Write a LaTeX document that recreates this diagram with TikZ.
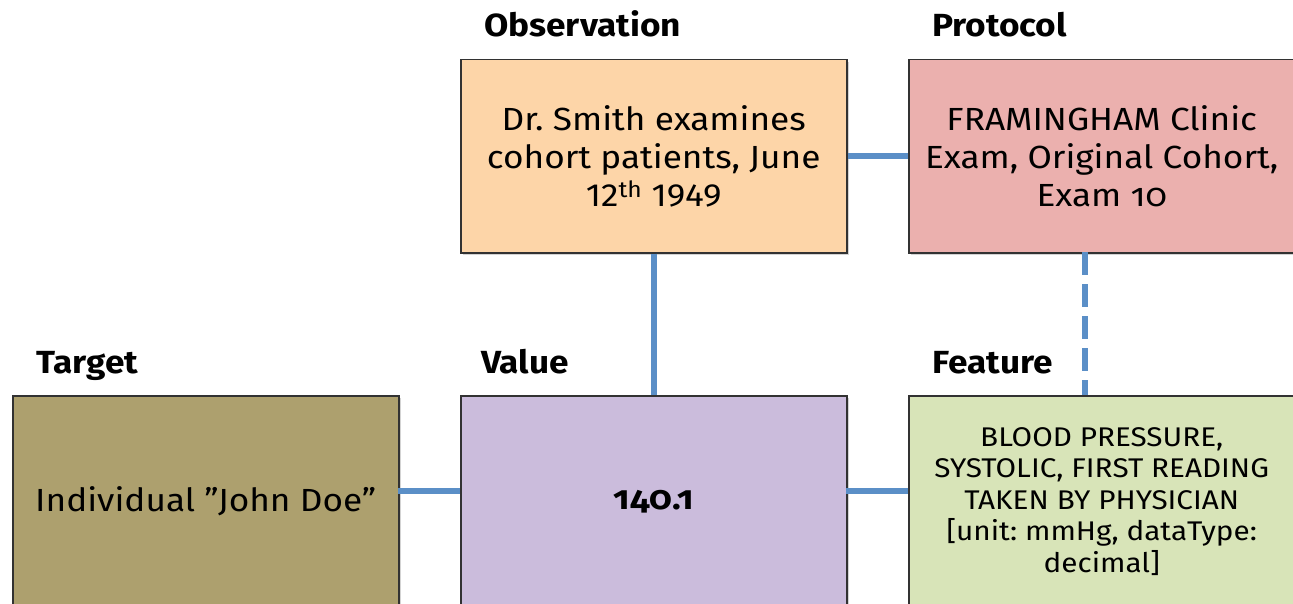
\documentclass[tikz,border=0pt]{standalone}
\usepackage{fontspec}
\setmainfont[FakeStretch=1.1]{Fira Sans}
\newfontfamily\oldnum[Numbers=OldStyle,FakeStretch=1.1]{Fira Sans}
\usetikzlibrary{shadows}
\frenchspacing
\definecolor{obsfill}{RGB}{253,213,168}
\definecolor{protfill}{RGB}{235,176,174}
\definecolor{targfill}{RGB}{173,160,110}
\definecolor{valfill}{RGB}{203,188,220}
\definecolor{featfill}{RGB}{216,228,184}
\definecolor{linkblue}{RGB}{91,143,199}
\definecolor{boxedge}{RGB}{50,50,50}
\tikzset{
  box/.style={draw=boxedge, line width=1.5pt, anchor=north west,
    minimum width=386pt, align=center, inner sep=4pt,
    font=\fontsize{32}{38}\selectfont,
    drop shadow={shadow xshift=2.5pt, shadow yshift=-2.5pt, opacity=0.35}},
  topbox/.style={box, minimum height=193pt},
  lowbox/.style={box, minimum height=211pt},
  heading/.style={anchor=base west, inner sep=0pt,
    font=\fontsize{32}{38}\selectfont\bfseries},
  link/.style={draw=linkblue, line width=6pt},
  dashlink/.style={link, dash pattern=on 23pt off 9pt}
}
\begin{document}
\begin{tikzpicture}[x=1pt,y=-1pt]
\useasboundingbox (0,0) rectangle (1293,604);
\begin{scope}
\clip (0,0) rectangle (1293,604);

% connector end points that are not box anchors
\coordinate (pdTop) at (1085,252);
\coordinate (pdBot) at (1085,395);
\coordinate (tvL) at (398,491);
\coordinate (tvR) at (460,491);
\coordinate (vfL) at (846,491);
\coordinate (vfR) at (908,491);

% boxes
\node[topbox, fill=obsfill] (obs) at (460,59)
  {Dr. Smith examines\\cohort patients, June\\12\textsuperscript{th} 1949};
\node[topbox, fill=protfill] (prot) at (908,59)
  {FRAMINGHAM Clinic\\Exam, Original Cohort,\\Exam {\oldnum 10}};
\node[lowbox, fill=targfill] (targ) at (12,395)
  {Individual ”John Doe”};
\node[lowbox, fill=valfill, font=\fontsize{33}{38}\selectfont] (val) at (460,395)
  {\bfseries\oldnum 140.1};
\node[lowbox, fill=featfill, font=\fontsize{27}{31.5}\selectfont] (feat) at (908,395)
  {BLOOD PRESSURE,\\SYSTOLIC, FIRST READING\\TAKEN BY PHYSICIAN\\{}[unit: mmHg, dataType:\\decimal]};

% links between boxes
\draw[link] (obs.east) -- (prot.west);
\draw[link] (obs.south) -- (val.north);
\draw[dashlink] (pdTop) -- (pdBot);
\draw[link] (tvL) -- (tvR);
\draw[link] (vfL) -- (vfR);

% headings
\node[heading] (hobs) at (484,37) {Observation};
\node[heading] (hprot) at (932,37) {Protocol};
\node[heading] (htarg) at (36,373) {Target};
\node[heading] (hval) at (481,373) {Value};
\node[heading] (hfeat) at (932,373) {Feature};
\end{scope}
\end{tikzpicture}
\end{document}
